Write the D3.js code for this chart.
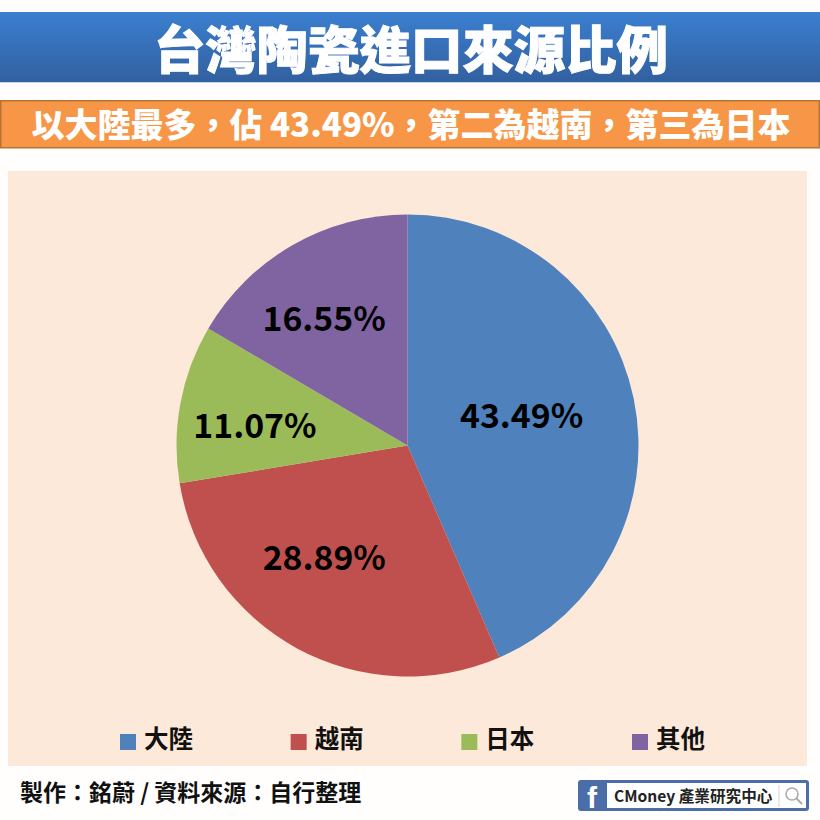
<!DOCTYPE html>
<html>

<head>
    <meta charset="utf-8">
    <style>
        html, body {
            margin: 0;
            padding: 0;
            background: #fffefd;
        }

        svg {
            display: block;
        }

        text {
            font-family: "Noto Sans CJK TC", "Noto Sans", sans-serif;
        }
    </style>
</head>

<body>
    <svg width="820" height="820"></svg>
</body>

<script src="https://d3js.org/d3.v7.min.js"></script>

<script>
    let categories = ["大陸", "越南", "日本", "其他"];
    let shares = [43.49, 28.89, 11.07, 16.55];
    let sliceColors = ["#4f81bd", "#c0504d", "#9bbb59", "#8064a2"];

    // fullwidth comma and colon
    let comma = "\uFF0C";
    let colon = "\uFF1A";

    let titleText = "台灣陶瓷進口來源比例";
    let subtitleText = "以大陸最多" + comma + "佔 43.49%" + comma + "第二為越南" + comma + "第三為日本";
    let creditText = "製作" + colon + "銘蔚 / 資料來源" + colon + "自行整理";
    let badgeText = "CMoney 產業研究中心";

    // nudges off the arc centroid, labels are not centred in the original
    let labelNudge = [[1, -9], [-28, 9], [-39, -1], [-26, -29]];

    let svg = d3.select("svg");
    let defs = svg.append("defs");

    let blueGrad = defs.append("linearGradient")
        .attr("id", "titleGrad")
        .attr("x1", 0).attr("y1", 0).attr("x2", 0).attr("y2", 1);
    blueGrad.append("stop").attr("offset", "0%").attr("stop-color", "#3b7fd0");
    blueGrad.append("stop").attr("offset", "100%").attr("stop-color", "#32609f");

    // title band
    svg.append("rect")
        .attr("x", 0).attr("y", 13)
        .attr("width", 820).attr("height", 70)
        .style("fill", "#c9d3e2");
    svg.append("rect")
        .attr("x", 0).attr("y", 12)
        .attr("width", 820).attr("height", 70)
        .style("fill", "url(#titleGrad)");
    svg.append("text")
        .attr("x", 411).attr("y", 46)
        .attr("text-anchor", "middle")
        .attr("dominant-baseline", "central")
        .style("font-size", "51.4px")
        .style("font-weight", 900)
        .style("fill", "#fff")
        .style("stroke", "#fff")
        .style("stroke-width", 1)
        .text(titleText);

    // subtitle band
    svg.append("rect")
        .attr("x", 0.75).attr("y", 100.75)
        .attr("width", 818.5).attr("height", 47)
        .style("fill", "#f79646")
        .style("stroke", "#b87333")
        .style("stroke-width", 1.5);
    svg.append("text")
        .attr("x", 411).attr("y", 123)
        .attr("text-anchor", "middle")
        .attr("dominant-baseline", "central")
        .style("font-size", "33px")
        .style("font-weight", 900)
        .style("fill", "#fff")
        .text(subtitleText);

    // chart panel
    svg.append("rect")
        .attr("x", 8).attr("y", 171)
        .attr("width", 799).attr("height", 595)
        .style("fill", "#fde9d9");

    // pie
    let radius = 231;
    let pie = d3.pie().sort(null).value(d => d);
    let arc = d3.arc().innerRadius(0).outerRadius(radius);
    let labelArc = d3.arc().innerRadius(radius * 0.5).outerRadius(radius * 0.5);

    let pieGroup = svg.append("g")
        .attr("transform", "translate(407.5,445.5)");

    let slices = pie(shares);

    pieGroup.selectAll(".slice")
        .data(slices)
        .join("path")
        .attr("class", "slice")
        .attr("d", arc)
        .style("fill", (d, i) => sliceColors[i]);

    pieGroup.selectAll(".slice-label")
        .data(slices)
        .join("text")
        .attr("class", "slice-label")
        .attr("x", (d, i) => labelArc.centroid(d)[0] + labelNudge[i][0])
        .attr("y", (d, i) => labelArc.centroid(d)[1] + labelNudge[i][1])
        .attr("text-anchor", "middle")
        .attr("dominant-baseline", "central")
        .style("font-size", "33.8px")
        .style("font-weight", 700)
        .style("fill", "#000")
        .text(d => d3.format(".2f")(d.value) + "%");

    // legend
    let legendX = d3.scalePoint()
        .domain(categories)
        .range([120, 632]);

    let legend = svg.selectAll(".legend")
        .data(categories)
        .join("g")
        .attr("class", "legend")
        .attr("transform", d => "translate(" + legendX(d) + ",734)");

    legend.append("rect")
        .attr("width", 16).attr("height", 16)
        .style("fill", (d, i) => sliceColors[i]);

    legend.append("text")
        .attr("x", 24).attr("y", 3.5)
        .attr("dominant-baseline", "central")
        .style("font-size", "24.5px")
        .style("font-weight", 700)
        .style("fill", "#111")
        .text(d => d);

    // credit line
    svg.append("text")
        .attr("x", 20).attr("y", 791)
        .attr("dominant-baseline", "central")
        .style("font-size", "23px")
        .style("font-weight", 700)
        .style("fill", "#111")
        .text(creditText);

    // facebook search badge
    let badge = svg.append("g").attr("transform", "translate(578,780)");
    badge.append("rect")
        .attr("width", 231).attr("height", 31).attr("rx", 3)
        .style("fill", "#4c6ea8");
    badge.append("rect")
        .attr("x", 29).attr("y", 3)
        .attr("width", 199).attr("height", 25)
        .style("fill", "#fff");
    badge.append("text")
        .attr("x", 14).attr("y", 17)
        .attr("text-anchor", "middle")
        .attr("dominant-baseline", "central")
        .style("font-family", "'Liberation Sans', sans-serif")
        .style("font-size", "30px")
        .style("font-weight", 700)
        .style("fill", "#fff")
        .text("f");
    badge.append("text")
        .attr("x", 36).attr("y", 15)
        .attr("dominant-baseline", "central")
        .style("font-size", "15.6px")
        .style("font-weight", 700)
        .style("fill", "#222")
        .text(badgeText);
    badge.append("line")
        .attr("x1", 201).attr("x2", 201)
        .attr("y1", 5).attr("y2", 27)
        .style("stroke", "#d5d5d5");
    badge.append("circle")
        .attr("cx", 214).attr("cy", 14).attr("r", 6)
        .style("fill", "none")
        .style("stroke", "#aaa")
        .style("stroke-width", 1.5);
    badge.append("line")
        .attr("x1", 218).attr("y1", 18)
        .attr("x2", 224).attr("y2", 24)
        .style("stroke", "#aaa")
        .style("stroke-width", 2);
</script>

</html>
